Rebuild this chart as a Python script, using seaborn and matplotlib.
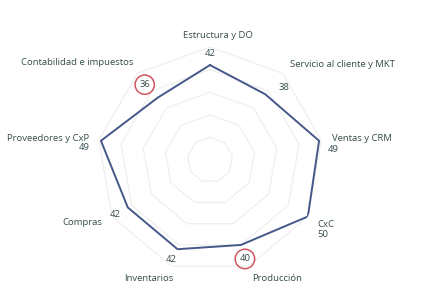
import numpy as np
import pandas as pd
import matplotlib
matplotlib.use("Agg")
import matplotlib.pyplot as plt
import seaborn as sns

categories = ["Estructura y DO", "Servicio al cliente y MKT", "Ventas y CRM", "CxC",
              "Producción", "Inventarios", "Compras", "Proveedores y CxP",
              "Contabilidad e impuestos"]
values = [42, 38, 49, 50, 40, 42, 42, 49, 36]
highlighted = ["Contabilidad e impuestos", "Producción"]
ring_levels = [10, 20, 30, 40, 50]

# label offsets in pixels (styling)
value_offsets = [(0, 12), (19, 7), (14, -9), (15, -18), (4, -14),
                 (-6, -10), (-13, -7), (-17, -7), (-13, 13)]
label_offsets = [(8, 0), (0, 0), (0, 0), (0, -2), (0, -2),
                 (6, -2), (0, 0), (2, 0), (3, 2)]

sns.set_theme(style="white")
plt.rcParams['font.family'] = ['Open Sans', 'DejaVu Sans']

text_color = "#344c4b"
line_color = "#465789"

n = len(categories)
theta = np.pi / 2 - np.arange(n) * 2 * np.pi / n
df = pd.DataFrame({"theta": np.append(theta, theta[0]),
                   "value": np.append(values, values[0])})

fig = plt.figure(figsize=(4.27, 3.04), dpi=100)
ax = fig.add_axes([(210 - 113) / 427, (304 - 160 - 113) / 304, 226 / 427, 226 / 304], polar=True)

# polygon grid rings
for lvl in ring_levels:
    ax.plot(np.append(theta, theta[0]), [lvl] * (n + 1), color="#efefef", lw=0.9, zorder=1)

sns.lineplot(data=df, x="theta", y="value", sort=False, ax=ax, color=line_color,
             lw=1.4, zorder=3, estimator=None)

ax.set_ylim(0, 50)
ax.set_xticks([])
ax.set_yticks([])
ax.grid(False)
ax.spines["polar"].set_visible(False)
ax.set_xlabel("")
ax.set_ylabel("")

for th, cat, off in zip(theta, categories, label_offsets):
    deg = np.degrees(th) % 360
    if abs(deg - 90) < 1:
        ha = "center"
    elif 90 < deg < 270:
        ha = "right"
    else:
        ha = "left"
    ax.annotate(cat, xy=(th, 55), xytext=off, textcoords="offset pixels",
                ha=ha, va="center", fontsize=6.8, color=text_color,
                annotation_clip=False)

for th, v, cat, off in zip(theta, values, categories, value_offsets):
    kw = {}
    if cat in highlighted:
        kw["bbox"] = dict(boxstyle="circle,pad=0.45", fc="none", ec="#d05560", lw=1.1)
    ax.annotate(str(v), xy=(th, v), xytext=off, textcoords="offset pixels",
                ha="center", va="center", fontsize=6.8, color=text_color,
                annotation_clip=False, **kw)

fig.savefig("out.png", dpi=100)
